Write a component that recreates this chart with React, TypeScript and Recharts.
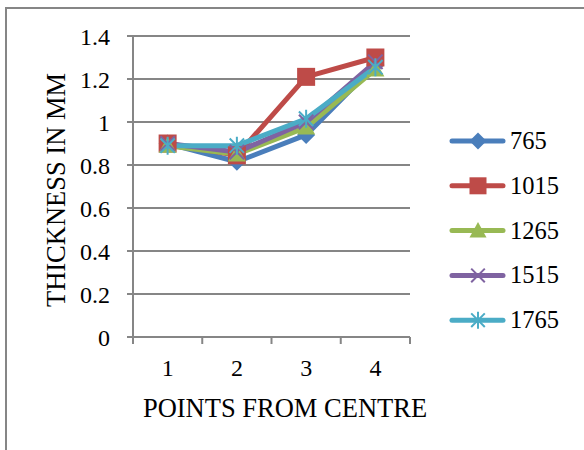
import React from "react";
import {
  LineChart,
  Line,
  XAxis,
  YAxis,
  CartesianGrid,
  Legend,
  Label,
} from "recharts";

// values
const points = ["1", "2", "3", "4"];
const s765 = [0.9, 0.815, 0.94, 1.265];
const s1015 = [0.9, 0.845, 1.21, 1.3];
const s1265 = [0.89, 0.85, 0.975, 1.245];
const s1515 = [0.9, 0.86, 1.0, 1.28];
const s1765 = [0.89, 0.89, 1.015, 1.255];

const yTicks = [0, 0.2, 0.4, 0.6, 0.8, 1, 1.2, 1.4];
const xTicks = [0.5, 1, 1.5, 2, 2.5, 3, 3.5, 4, 4.5];

const series = [
  { key: "s765", name: "765", color: "#4A7EBB", shape: "diamond", values: s765 },
  { key: "s1015", name: "1015", color: "#BE4B48", shape: "square", values: s1015 },
  { key: "s1265", name: "1265", color: "#98B954", shape: "triangle", values: s1265 },
  { key: "s1515", name: "1515", color: "#7F63A1", shape: "x", values: s1515 },
  { key: "s1765", name: "1765", color: "#4BACC6", shape: "star", values: s1765 },
];

const data = points.map((p, i) => {
  const row: any = { x: i + 1, label: p };
  series.forEach((s) => {
    row[s.key] = s.values[i];
  });
  return row;
});

const GRAY = "#868686";
const FONT = "'Liberation Serif', 'Times New Roman', serif";

function Marker({ shape, cx, cy, color, size = 18 }: any) {
  const h = size / 2;
  switch (shape) {
    case "diamond":
      return (
        <polygon
          points={`${cx},${cy - h} ${cx + h},${cy} ${cx},${cy + h} ${cx - h},${cy}`}
          fill={color}
        />
      );
    case "square":
      return <rect x={cx - h} y={cy - h} width={size} height={size} fill={color} />;
    case "triangle":
      return (
        <polygon
          points={`${cx},${cy - h} ${cx + h},${cy + h * 0.8} ${cx - h},${cy + h * 0.8}`}
          fill={color}
        />
      );
    case "x":
      return (
        <path
          d={`M${cx - h * 0.8},${cy - h * 0.8}L${cx + h * 0.8},${cy + h * 0.8}M${cx + h * 0.8},${cy - h * 0.8}L${cx - h * 0.8},${cy + h * 0.8}`}
          stroke={color}
          strokeWidth={2}
        />
      );
    default:
      return (
        <path
          d={`M${cx - h * 0.8},${cy - h * 0.8}L${cx + h * 0.8},${cy + h * 0.8}M${cx + h * 0.8},${cy - h * 0.8}L${cx - h * 0.8},${cy + h * 0.8}M${cx},${cy - h}L${cx},${cy + h}`}
          stroke={color}
          strokeWidth={2}
        />
      );
  }
}

const XTick = ({ x, y, payload }: any) => {
  const v = payload.value;
  if (v % 1 !== 0) {
    return <line x1={x} x2={x} y1={y} y2={y + 7} stroke={GRAY} strokeWidth={2} />;
  }
  return (
    <text x={x} y={y + 39} textAnchor="middle" fontSize={24} fontFamily={FONT} fill="#000">
      {points[v - 1]}
    </text>
  );
};

const LegendBox = () => (
  <svg width={139} height={230}>
    {series.map((s, i) => {
      const cy = 26 + i * 44.8;
      return (
        <g key={s.key}>
          <line
            x1={7}
            x2={58}
            y1={cy}
            y2={cy}
            stroke={s.color}
            strokeWidth={5}
            strokeLinecap="round"
          />
          <Marker shape={s.shape} cx={33} cy={cy} color={s.color} size={17} />
          <text x={65} y={cy + 8} fontSize={24.5} fontFamily={FONT} fill="#000">
            {s.name}
          </text>
        </g>
      );
    })}
  </svg>
);

export default function App() {
  return (
    <div
      style={{
        position: "absolute",
        left: 0,
        top: 0,
        width: 584,
        height: 450,
        overflow: "hidden",
        background: "#fff",
      }}
    >
      <div
        style={{
          position: "absolute",
          left: 5,
          top: 7,
          width: 700,
          height: 600,
          border: `2px solid ${GRAY}`,
        }}
      />
      <div style={{ position: "absolute", left: 0, top: 0 }}>
        <LineChart
          width={584}
          height={450}
          data={data}
          margin={{ top: 36, right: 174, left: 0, bottom: 0 }}
        >
          <CartesianGrid horizontal={true} vertical={false} stroke={GRAY} strokeWidth={2} />
          <XAxis
            dataKey="x"
            type="number"
            domain={[0.5, 4.5]}
            ticks={xTicks}
            interval={0}
            height={113}
            tickSize={0}
            tickMargin={0}
            tickLine={false}
            axisLine={{ stroke: GRAY, strokeWidth: 2 }}
            tick={<XTick />}
          >
            <Label
              content={() => (
                <text x={285} y={417} textAnchor="middle" fontSize={26.5} fontFamily={FONT} fill="#000">
                  POINTS FROM CENTRE
                </text>
              )}
            />
          </XAxis>
          <YAxis
            type="number"
            domain={[0, 1.4]}
            ticks={yTicks}
            interval={0}
            width={133}
            tickSize={6}
            tickMargin={17}
            tickLine={{ stroke: GRAY, strokeWidth: 2 }}
            axisLine={{ stroke: GRAY, strokeWidth: 2 }}
            tick={{ fill: "#000", fontSize: 24, fontFamily: FONT }}
          >
            <Label
              content={() => (
                <text
                  x={65}
                  y={190}
                  transform="rotate(-90 65 190)"
                  textAnchor="middle"
                  fontSize={26.5}
                  fontFamily={FONT}
                  fill="#000"
                >
                  THICKNESS IN MM
                </text>
              )}
            />
          </YAxis>
          <Legend
            layout="vertical"
            align="center"
            verticalAlign="middle"
            wrapperStyle={{ left: 445, top: 115, width: 139, height: 230 }}
            content={<LegendBox />}
          />
          {series.map((s) => (
            <Line
              key={s.key}
              dataKey={s.key}
              name={s.name}
              stroke={s.color}
              strokeWidth={5}
              strokeLinejoin="round"
              isAnimationActive={false}
              activeDot={false}
              dot={(p: any) => (
                <Marker
                  key={`${s.key}-${p.index}`}
                  shape={s.shape}
                  cx={p.cx}
                  cy={p.cy}
                  color={s.color}
                  size={18}
                />
              )}
            />
          ))}
        </LineChart>
      </div>
    </div>
  );
}
